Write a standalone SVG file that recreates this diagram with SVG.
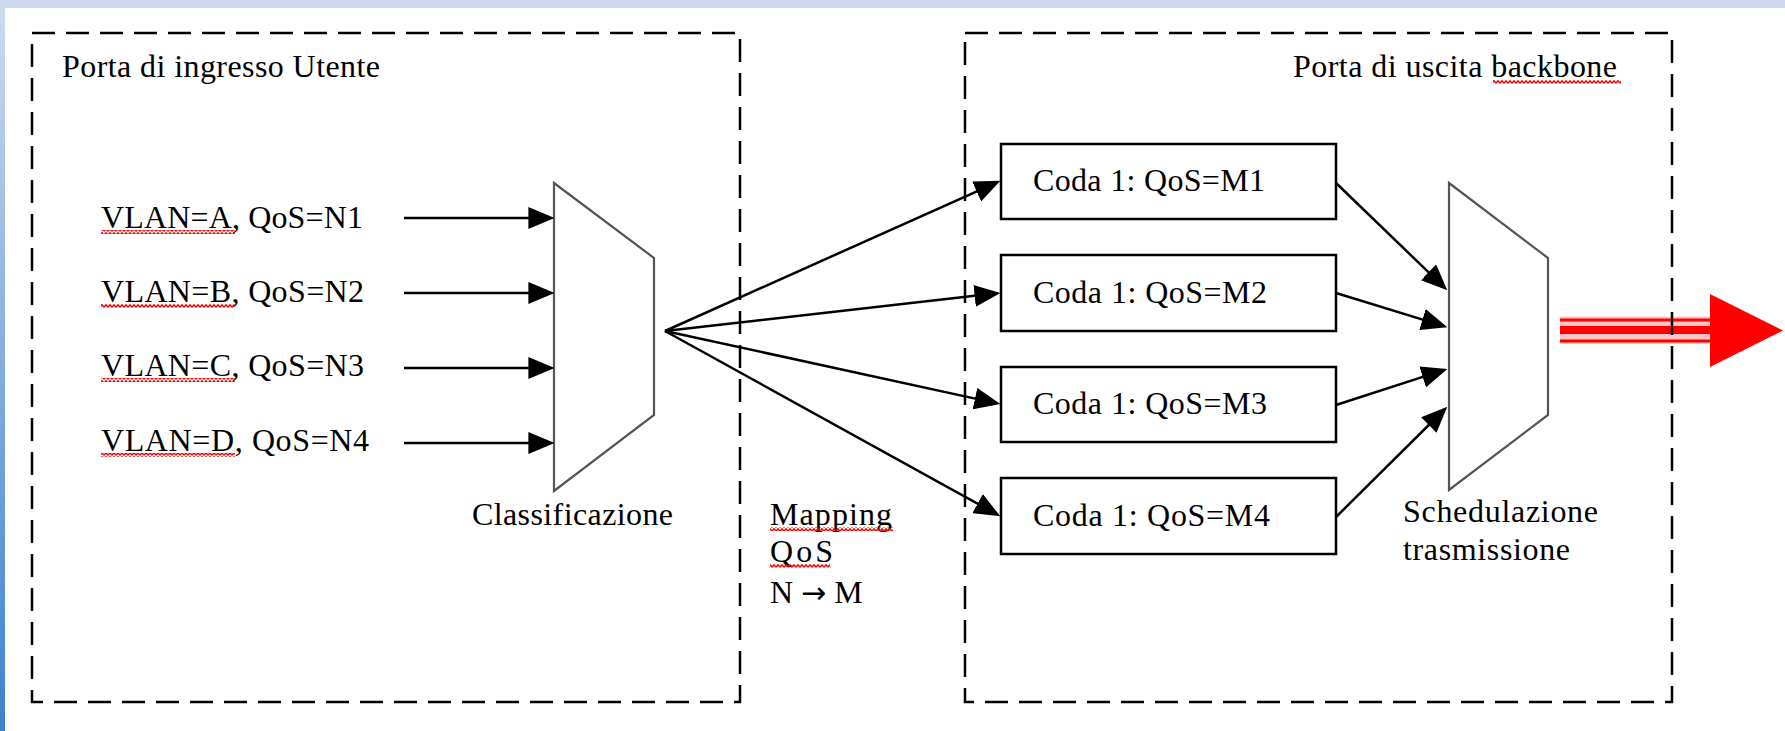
<svg xmlns="http://www.w3.org/2000/svg" width="1785" height="731" viewBox="0 0 1785 731">
<defs>
<style>
.t{font-family:"Liberation Serif","Times New Roman",serif;font-size:32px;fill:#000}
.frame{fill:none;stroke:#000;stroke-width:2.5;stroke-dasharray:23 11}
.trap{fill:#fff;stroke:#555;stroke-width:2.2}
.box{fill:#fff;stroke:#000;stroke-width:2.5}
.ar{fill:none;stroke:#000;stroke-width:2.5;marker-end:url(#ah)}
</style>
<marker id="ah" markerUnits="userSpaceOnUse" markerWidth="26" markerHeight="22" refX="15" refY="10.5" orient="auto" viewBox="0 0 25 21">
<path d="M0,0 L25,10.5 L0,21 z" fill="#000"/>
</marker>
<pattern id="wave" patternUnits="userSpaceOnUse" width="4" height="4">
<path d="M0,3.2 L2,0.8 L4,3.2" fill="none" stroke="#ff0000" stroke-width="1.4"/>
</pattern>
<linearGradient id="lg" x1="0" y1="0" x2="0" y2="1">
<stop offset="0" stop-color="#cfdaee"/>
<stop offset="1" stop-color="#3c80d0"/>
</linearGradient>
</defs>
<rect x="0" y="0" width="1785" height="731" fill="#fff"/>
<rect x="0" y="0" width="1785" height="8" fill="#cfdaee"/>
<rect x="0" y="0" width="5" height="731" fill="url(#lg)"/>

<g id="output-arrow">
<rect x="1560" y="316.5" width="152" height="27.5" fill="#ffc4c4"/>
<rect x="1560" y="318.5" width="152" height="3" fill="#ff0000"/>
<rect x="1560" y="326" width="152" height="8" fill="#ff0000"/>
<rect x="1560" y="339.5" width="152" height="3" fill="#ff0000"/>
<polygon points="1710,294 1783,330.5 1710,367" fill="#ff0000"/>
</g>

<g id="ingress-port">
<rect class="frame" x="32" y="33" width="708" height="669"/>
<text class="t" x="62" y="77" textLength="318" lengthAdjust="spacing">Porta di ingresso Utente</text>
</g>
<g id="egress-port">
<rect class="frame" x="965" y="33" width="707" height="669"/>
<text class="t" x="1293" y="77" textLength="324" lengthAdjust="spacing">Porta di uscita backbone</text>
<rect x="1493" y="80" width="128" height="4" fill="url(#wave)"/>
</g>

<g id="inputs">
<text class="t" x="101" y="228" textLength="262" lengthAdjust="spacing">VLAN=A, QoS=N1</text>
<text class="t" x="101" y="302" textLength="263" lengthAdjust="spacing">VLAN=B, QoS=N2</text>
<text class="t" x="101" y="376" textLength="263" lengthAdjust="spacing">VLAN=C, QoS=N3</text>
<text class="t" x="101" y="451" textLength="268" lengthAdjust="spacing">VLAN=D, QoS=N4</text>
<rect x="101" y="230" width="134" height="4" fill="url(#wave)"/>
<rect x="101" y="304" width="134" height="4" fill="url(#wave)"/>
<rect x="101" y="378" width="134" height="4" fill="url(#wave)"/>
<rect x="101" y="453" width="134" height="4" fill="url(#wave)"/>
</g>

<g id="classificazione">
<polygon class="trap" points="554,183 654,258 654,415 554,491"/>
<text class="t" x="472" y="525" textLength="201" lengthAdjust="spacing">Classificazione</text>
</g>

<g id="mapping-label">
<text class="t" x="770" y="525" textLength="122" lengthAdjust="spacing">Mapping</text>
<text class="t" x="770" y="562" textLength="63" lengthAdjust="spacing">QoS</text>
<text class="t" x="770" y="603">N <tspan font-family="DejaVu Sans, sans-serif" font-size="30">→</tspan> M</text>
<rect x="770" y="527" width="123" height="4" fill="url(#wave)"/>
<rect x="770" y="564" width="60" height="4" fill="url(#wave)"/>
</g>

<g id="coda1">
<rect class="box" x="1001" y="144" width="335" height="75"/>
<text class="t" x="1033" y="191" textLength="232" lengthAdjust="spacing">Coda 1: QoS=M1</text>
</g>
<g id="coda2">
<rect class="box" x="1001" y="255" width="335" height="76"/>
<text class="t" x="1033" y="303" textLength="234" lengthAdjust="spacing">Coda 1: QoS=M2</text>
</g>
<g id="coda3">
<rect class="box" x="1001" y="367" width="335" height="75"/>
<text class="t" x="1033" y="414" textLength="234" lengthAdjust="spacing">Coda 1: QoS=M3</text>
</g>
<g id="coda4">
<rect class="box" x="1001" y="478" width="335" height="76"/>
<text class="t" x="1033" y="526" textLength="237" lengthAdjust="spacing">Coda 1: QoS=M4</text>
</g>

<g id="schedulazione">
<polygon class="trap" points="1449,183 1548,258 1548,415 1449,490"/>
<text class="t" x="1403" y="522" textLength="195" lengthAdjust="spacing">Schedulazione</text>
<text class="t" x="1403" y="560" textLength="167" lengthAdjust="spacing">trasmissione</text>
</g>

<g id="connectors">
<line class="ar" x1="404" y1="218" x2="544" y2="218"/>
<line class="ar" x1="404" y1="293" x2="544" y2="293"/>
<line class="ar" x1="404" y1="368" x2="544" y2="368"/>
<line class="ar" x1="404" y1="443" x2="544" y2="443"/>
<line class="ar" x1="665" y1="331" x2="990.9" y2="185.1"/>
<line class="ar" x1="665" y1="331" x2="990.1" y2="294.1"/>
<line class="ar" x1="665" y1="331" x2="990.2" y2="401.9"/>
<line class="ar" x1="665" y1="331" x2="991.2" y2="511.2"/>
<line class="ar" x1="1336" y1="183" x2="1439.8" y2="283.1"/>
<line class="ar" x1="1336" y1="293" x2="1437.4" y2="324.1"/>
<line class="ar" x1="1336" y1="405" x2="1437.5" y2="372.1"/>
<line class="ar" x1="1336" y1="517" x2="1439.9" y2="414.0"/>
</g>
</svg>
